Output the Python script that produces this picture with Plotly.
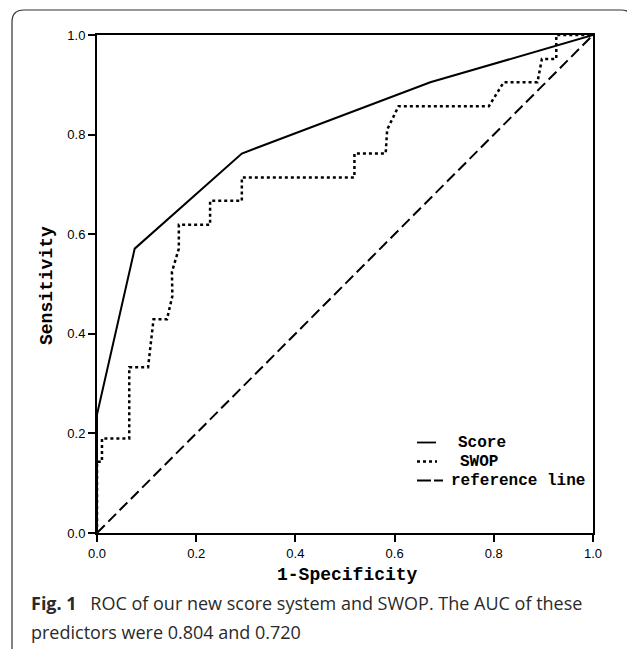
import plotly.graph_objects as go

# ---- data ----
score_x = [0.0, 0.0, 0.076, 0.292, 0.672, 1.0]
score_y = [0.0, 0.238, 0.571, 0.762, 0.905, 1.0]

swop_x = [0.0, 0.0, 0.010, 0.010, 0.065, 0.065, 0.103, 0.114, 0.141, 0.152, 0.151, 0.165, 0.165,
          0.228, 0.228, 0.292, 0.292, 0.519, 0.519, 0.582, 0.585, 0.608, 0.790, 0.820,
          0.888, 0.897, 0.926, 0.926, 1.0]
swop_y = [0.0, 0.143, 0.143, 0.190, 0.190, 0.333, 0.333, 0.429, 0.429, 0.476, 0.524, 0.571, 0.619,
          0.619, 0.667, 0.667, 0.714, 0.714, 0.762, 0.762, 0.810, 0.857, 0.857, 0.905,
          0.905, 0.952, 0.952, 1.0, 1.0]

ref_x = [0.0, 1.0]
ref_y = [0.0, 1.0]

tick_vals = [0.0, 0.2, 0.4, 0.6, 0.8, 1.0]
tick_text = ["0.0", "0.2", "0.4", "0.6", "0.8", "1.0"]

series_names = ["Score", "SWOP", "reference line"]
x_title = "1-Specificity"
y_title = "Sensitivity"
caption_1 = "<b>Fig. 1</b>\u2002 ROC of our new score system and SWOP. The AUC of these"
caption_2 = "predictors were 0.804 and 0.720"

# ---- layout constants (page pixels; page body has an 8px margin) ----
OFF = 8
W, H = 635 - OFF, 651 - OFF
PL, PR, PT, PB = 97, 593, 35, 533          # plot box in page pixels
L, T = PL - OFF, PT - OFF
R = W - (PR - OFF)
B = H - (PB - OFF)
PW, PH = PR - PL, PB - PT

def px(xp):
    return (xp - PL) / PW

def py(yp):
    return (PB - yp) / PH

MONO = "Liberation Mono, Courier New, monospace"

fig = go.Figure()
fig.add_trace(go.Scatter(x=score_x, y=score_y, mode="lines", name=series_names[0],
                         line=dict(color="black", width=2), showlegend=False))
fig.add_trace(go.Scatter(x=swop_x, y=swop_y, mode="lines", name=series_names[1],
                         line=dict(color="black", width=2.5, dash="3px,3px"), showlegend=False))
fig.add_trace(go.Scatter(x=ref_x, y=ref_y, mode="lines", name=series_names[2],
                         line=dict(color="black", width=2, dash="11px,5px"), showlegend=False))

axis_common = dict(
    range=[0, 1], tickvals=tick_vals, ticktext=tick_text,
    showgrid=False, zeroline=False,
    showline=True, linecolor="black", linewidth=2, mirror=True,
    ticks="outside", ticklen=7, tickwidth=1.5, tickcolor="black",
    tickfont=dict(family="Liberation Sans, Arial", size=13, color="black"),
    fixedrange=True,
)

# legend (drawn manually to match the original's compact layout)
leg_rows = [442.5, 461.5, 480.5]
leg_text_x = [456, 458, 449]
leg_dash = ["solid", "3px,3px", "14px,3px"]
leg_width = [1.8, 2.5, 1.8]
leg_x1 = [436, 437, 443]

shapes = [
    dict(type="path", xref="paper", yref="paper",
         path=(f"M {px(12)} {py(649)} L {px(12)} {py(22)} "
               f"Q {px(12)} {py(10)} {px(24)} {py(10)} "
               f"L {px(621)} {py(10)} "
               f"Q {px(633)} {py(10)} {px(633)} {py(22)}"),
         line=dict(color="#333333", width=1.2)),
]
annotations = [
    dict(text="<b>" + x_title + "</b>", xref="paper", yref="paper",
         x=px(347), y=py(575), xanchor="center", yanchor="middle", showarrow=False,
         font=dict(family=MONO, size=18, color="black")),
    dict(text="<b>" + y_title + "</b>", xref="paper", yref="paper",
         x=px(47), y=py(286), xanchor="center", yanchor="middle", showarrow=False,
         textangle=-90, font=dict(family=MONO, size=18, color="black")),
    dict(text=caption_1, xref="paper", yref="paper",
         x=px(29), y=py(603), xanchor="left", yanchor="middle", showarrow=False,
         font=dict(family="Open Sans, Noto Sans, sans-serif", size=18, color="#2a2a2a")),
    dict(text=caption_2, xref="paper", yref="paper",
         x=px(29), y=py(632), xanchor="left", yanchor="middle", showarrow=False,
         font=dict(family="Open Sans, Noto Sans, sans-serif", size=18, color="#2a2a2a")),
]
for name, ry, tx, dsh, lw, x1 in zip(series_names, leg_rows, leg_text_x, leg_dash, leg_width, leg_x1):
    shapes.append(dict(type="line", xref="paper", yref="paper",
                       x0=px(417), x1=px(x1), y0=py(ry), y1=py(ry),
                       line=dict(color="black", width=lw, dash=dsh)))
    annotations.append(dict(text="<b>" + name + "</b>", xref="paper", yref="paper",
                            x=px(tx), y=py(ry), xanchor="left", yanchor="middle",
                            showarrow=False,
                            font=dict(family=MONO, size=16, color="black")))

fig.update_layout(
    width=W, height=H, autosize=False,
    margin=dict(l=L, r=R, t=T, b=B, pad=0),
    paper_bgcolor="white", plot_bgcolor="white",
    xaxis=dict(**axis_common),
    yaxis=dict(**axis_common),
    showlegend=False,
    shapes=shapes,
    annotations=annotations,
)

fig.write_html("out.html")
